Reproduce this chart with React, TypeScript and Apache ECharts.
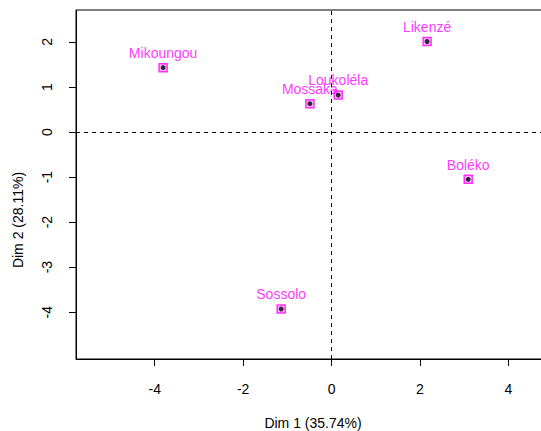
import React, { useEffect, useRef } from "react";
import * as echarts from "echarts";

const names = ["Mikoungou", "Likenzé", "Loukoléla", "Mossaka", "Boléko", "Sossolo"];
const dim1 = [-3.81, 2.16, 0.15, -0.49, 3.09, -1.14];
const dim2 = [1.43, 2.01, 0.82, 0.63, -1.05, -3.93];
const xTicks = [-4, -2, 0, 2, 4];
const yTicks = [-4, -3, -2, -1, 0, 1, 2];
const xTitle = "Dim 1 (35.74%)";
const yTitle = "Dim 2 (28.11%)";

export default function App() {
  const ref = useRef<HTMLDivElement>(null);
  useEffect(() => {
    const chart = echarts.init(ref.current!, null, { renderer: "svg" });
    const data = names.map((n, i) => ({ name: n, value: [dim1[i], dim2[i]] }));
    const font = "'Liberation Sans', Arial, sans-serif";
    chart.setOption({
      animation: false,
      backgroundColor: "#fff",
      grid: {
        left: 76,
        top: 10,
        width: 474,
        height: 349,
        show: true,
        borderColor: "#000",
        borderWidth: 1,
        containLabel: false,
        outerBoundsMode: "none",
      },
      graphic: [
        {
          type: "text",
          x: 313,
          y: 423,
          style: { text: xTitle, fill: "#000", fontSize: 14, fontFamily: font, align: "center", verticalAlign: "middle" },
        },
        {
          type: "text",
          x: 18,
          y: 220,
          rotation: Math.PI / 2,
          style: { text: yTitle, fill: "#000", fontSize: 14, fontFamily: font, align: "center", verticalAlign: "middle" },
        },
      ],
      xAxis: {
        type: "value",
        min: -5.78,
        max: 4.94,
        splitLine: { show: false },
        axisLine: { show: true, onZero: false, lineStyle: { color: "#000" } },
        axisTick: { show: true, length: 7, customValues: xTicks, lineStyle: { color: "#000" } },
        axisLabel: { customValues: xTicks, margin: 23, color: "#000", fontSize: 14, fontFamily: font },
      },
      yAxis: {
        type: "value",
        min: -5.04,
        max: 2.71,
        splitLine: { show: false },
        axisLine: { show: true, onZero: false, lineStyle: { color: "#000" } },
        axisTick: { show: true, length: 7, customValues: yTicks, lineStyle: { color: "#000" } },
        axisLabel: { customValues: yTicks, rotate: 90, margin: 22, color: "#000", fontSize: 14, fontFamily: font },
      },
      series: [
        {
          type: "scatter",
          data,
          symbol: "rect",
          symbolSize: 8,
          itemStyle: { color: "#ffb3ff", borderColor: "#ff00ff", borderWidth: 1.5 },
          label: {
            show: true,
            position: "top",
            distance: 3,
            formatter: "{b}",
            color: "#ff00ff",
            fontSize: 14,
            fontFamily: font,
          },
          markLine: {
            silent: true,
            symbol: "none",
            label: { show: false },
            lineStyle: { color: "#000", type: [4, 4], width: 1 },
            data: [{ xAxis: 0 }, { yAxis: 0 }],
          },
          z: 2,
        },
        {
          type: "scatter",
          data,
          symbol: "circle",
          symbolSize: 5,
          itemStyle: { color: "#000" },
          label: { show: false },
          z: 3,
        },
      ],
    });
    return () => chart.dispose();
  }, []);
  return (
    <div
      ref={ref}
      style={{ position: "fixed", left: 0, top: 0, width: 541, height: 431, overflow: "hidden" }}
    />
  );
}
